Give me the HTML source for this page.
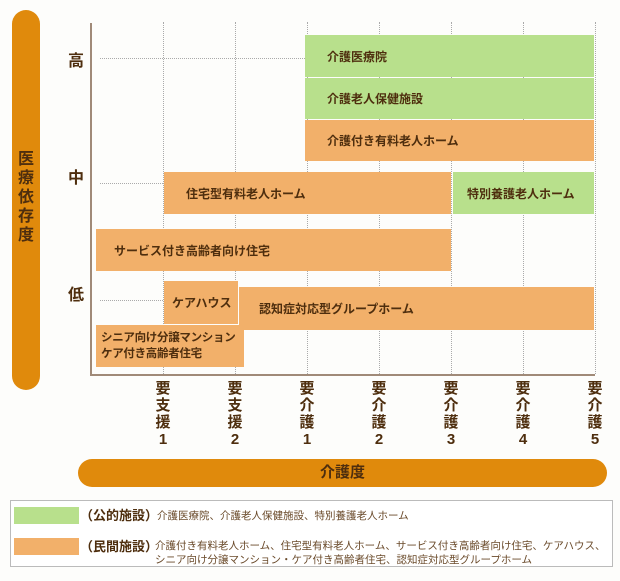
<!DOCTYPE html>
<html><head><meta charset="utf-8"><style>
body{margin:0;width:620px;height:581px;background:#fdfdfb;font-family:"Liberation Sans","Noto Sans CJK JP",sans-serif;color:#4e2e0e;position:relative;overflow:hidden}
.a{position:absolute}
.box{position:absolute;font-weight:bold;font-size:12px;display:flex;align-items:center;box-sizing:border-box;color:#4e2e0e;white-space:nowrap}
.g{background:#b8e08c}.o{background:#f2b06a}
.vl{position:absolute;border-left:1px dotted #aaa;width:0}
.hl{position:absolute;border-top:1px dotted #aaa;height:0}
.tk{position:absolute;top:380px;width:20px;text-align:center;font-weight:bold;font-size:15px;line-height:17px;color:#4e2e0e}
.yl{position:absolute;left:68px;font-weight:bold;font-size:16px}
</style></head><body>
<div class="a" style="left:12px;top:10px;width:28px;height:380px;background:#e08a0c;border-radius:14px"></div>
<div class="a" style="left:17px;top:150px;width:18px;font-weight:bold;font-size:16px;line-height:19px;text-align:center">医<br>療<br>依<br>存<br>度</div>
<div class="yl" style="top:47px">高</div>
<div class="yl" style="top:164px">中</div>
<div class="yl" style="top:281px">低</div>
<div class="hl" style="left:100px;top:58px;width:205px"></div>
<div class="hl" style="left:100px;top:183px;width:63px"></div>
<div class="hl" style="left:100px;top:300px;width:63px"></div>
<div class="vl" style="left:163px;top:22px;height:352px"></div>
<div class="vl" style="left:235px;top:22px;height:352px"></div>
<div class="vl" style="left:307px;top:22px;height:352px"></div>
<div class="vl" style="left:379px;top:22px;height:352px"></div>
<div class="vl" style="left:451px;top:22px;height:352px"></div>
<div class="vl" style="left:523px;top:22px;height:352px"></div>
<div class="vl" style="left:595px;top:22px;height:352px"></div>
<div class="a" style="left:90px;top:23px;width:2px;height:353px;background:#a08a78"></div>
<div class="a" style="left:90px;top:374px;width:505px;height:2px;background:#a08a78"></div>
<div class="box g" style="left:305px;top:35px;width:289px;height:42px;padding-left:22px">介護医療院</div>
<div class="box g" style="left:305px;top:78px;width:289px;height:41px;padding-left:22px">介護老人保健施設</div>
<div class="box o" style="left:305px;top:120px;width:289px;height:41px;padding-left:22px">介護付き有料老人ホーム</div>
<div class="box o" style="left:164px;top:172px;width:287px;height:42px;padding-left:22px">住宅型有料老人ホーム</div>
<div class="box g" style="left:453px;top:172px;width:141px;height:42px;padding-left:14px">特別養護老人ホーム</div>
<div class="box o" style="left:96px;top:229px;width:355px;height:42px;padding-left:18px">サービス付き高齢者向け住宅</div>
<div class="box o" style="left:164px;top:281px;width:74px;height:43px;padding-left:8px">ケアハウス</div>
<div class="box o" style="left:239px;top:287px;width:355px;height:43px;padding-left:20px">認知症対応型グループホーム</div>
<div class="box o" style="left:96px;top:325px;width:148px;height:42px;padding-left:5px;line-height:16px;font-size:11.5px;letter-spacing:-0.3px">シニア向け分譲マンション<br>ケア付き高齢者住宅</div>
<div class="tk" style="left:153px">要<br>支<br>援<br>1</div>
<div class="tk" style="left:225px">要<br>支<br>援<br>2</div>
<div class="tk" style="left:297px">要<br>介<br>護<br>1</div>
<div class="tk" style="left:369px">要<br>介<br>護<br>2</div>
<div class="tk" style="left:441px">要<br>介<br>護<br>3</div>
<div class="tk" style="left:513px">要<br>介<br>護<br>4</div>
<div class="tk" style="left:585px">要<br>介<br>護<br>5</div>
<div class="a" style="left:78px;top:459px;width:529px;height:28px;background:#e08a0c;border-radius:14px;text-align:center;line-height:28px;font-weight:bold;font-size:15px">介護度</div>
<div class="a" style="left:10px;top:500px;width:603px;height:67px;border:1px solid #bbb;box-sizing:border-box;background:#fff"></div>
<div class="a" style="left:14px;top:507px;width:65px;height:17px;background:#b8e08c"></div>
<div class="a" style="left:14px;top:538px;width:65px;height:17px;background:#f2b06a"></div>
<div class="a" style="left:80px;top:507px;font-weight:bold;font-size:13px;line-height:17px">（公的施設）</div>
<div class="a" style="left:157px;top:509px;font-size:10.5px;line-height:14px;color:#6a4a2a">介護医療院、介護老人保健施設、特別養護老人ホーム</div>
<div class="a" style="left:80px;top:538px;font-weight:bold;font-size:13px;line-height:17px">（民間施設）</div>
<div class="a" style="left:155px;top:539px;font-size:10.5px;line-height:14px;color:#6a4a2a;white-space:nowrap">介護付き有料老人ホーム、住宅型有料老人ホーム、サービス付き高齢者向け住宅、ケアハウス、<br>シニア向け分譲マンション・ケア付き高齢者住宅、認知症対応型グループホーム</div>
</body></html>
